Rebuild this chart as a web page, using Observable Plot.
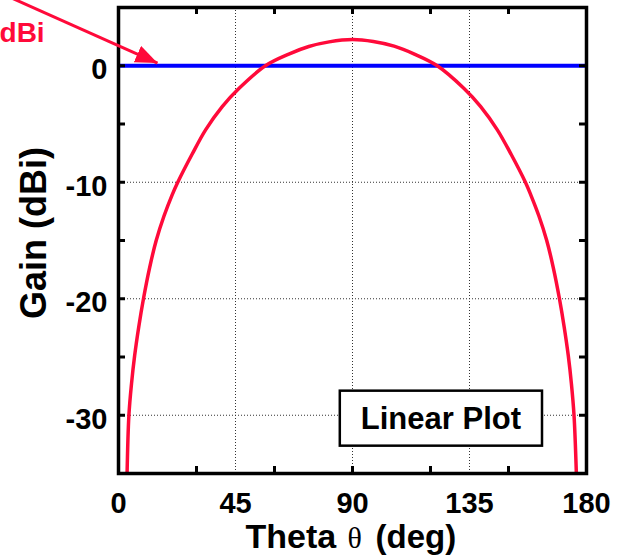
<!DOCTYPE html>
<html><head><meta charset="utf-8">
<script src="https://cdn.jsdelivr.net/npm/d3@7"></script>
<script src="https://cdn.jsdelivr.net/npm/@observablehq/plot@0.6"></script>
<style>body{margin:0;background:#fff;}</style>
</head><body><div id="chart"></div>
<script>
// Dipole gain vs theta
const thetaDeg = [3.3, 4.0, 5.0, 6.2, 7.8, 9.6, 12.0, 14.5, 17.5, 20.6, 22.8, 28.3, 33.5, 39.9, 46.3, 56.5, 65.5, 73.2, 81, 90, 98, 106, 113.8, 122.6, 132.9, 139.3, 145.7, 151.0, 156.5, 158.6, 161.7, 164.7, 167.2, 169.6, 171.4, 173.0, 174.2, 175.2, 176.1];
const gainDbi  = [-35, -30, -27.3, -24.9, -22.4, -20, -17.3, -15.0, -12.9, -11.1, -10.0, -7.6, -5.5, -3.5, -1.95, 0, 1.0, 1.65, 2.05, 2.25, 2.08, 1.68, 1.0, 0, -1.95, -3.5, -5.5, -7.6, -10.0, -11.1, -12.9, -15.0, -17.3, -20, -22.4, -24.9, -27.3, -30, -35];
const isotropicGain = [0];
const xTickLabels = [0, 45, 90, 135, 180];
const yTickLabels = [0, -10, -20, -30];
const xMinorTicks = [30, 60, 90, 120, 150];
const yMinorTicks = [-30, -25, -20, -15, -10, -5, 0];
const xGrid = [45, 90, 135];
const yGrid = [0, -10, -20, -30];
const boxLabel = [{theta: 124, gain: -30.3, text: "Linear Plot"}];
const arrowAnn = [{x1: -48, y1: 6.5, x2: 15, y2: 0.23}];
const arrowText = [{theta: -28.4, gain: 2.03, text: "dBi"}];
const yTitle = ["Gain (dBi)"];

const data = thetaDeg.map((t, i) => ({theta: t, gain: gainDbi[i]}));
const font = "'Liberation Sans', Arial, Helvetica, sans-serif";
const red = "#ff0a3a";
const fmt = d => String(d);

const plot = Plot.plot({
  width: 621, height: 556,
  marginLeft: 118, marginRight: 35, marginTop: 7, marginBottom: 83,
  style: {fontFamily: font, fontSize: "29px", fontWeight: "bold", background: "white", color: "black"},
  x: {domain: [0, 180]},
  y: {domain: [-35, 5]},
  marks: [
    Plot.gridX(xGrid, {stroke: "#333", strokeOpacity: 1, strokeWidth: 1, strokeDasharray: "1,2"}),
    Plot.gridY(yGrid, {stroke: "#333", strokeOpacity: 1, strokeWidth: 1, strokeDasharray: "1,2"}),
    Plot.ruleY(isotropicGain, {stroke: "#0000ff", strokeWidth: 4}),
    Plot.line(data, {x: "theta", y: "gain", stroke: red, strokeWidth: 3.5, curve: "catmull-rom", clip: true}),
    // inward minor ticks
    Plot.ruleX(xMinorTicks, {x: d => d, insetTop: 459, stroke: "black", strokeWidth: 3}),
    Plot.ruleX(xMinorTicks, {x: d => d, insetBottom: 459, stroke: "black", strokeWidth: 3}),
    Plot.ruleY(yMinorTicks, {y: d => d, insetRight: 461, stroke: "black", strokeWidth: 3}),
    Plot.ruleY(yMinorTicks, {y: d => d, insetLeft: 461, stroke: "black", strokeWidth: 3}),
    Plot.axisX(xTickLabels, {anchor: "bottom", tickSize: 0, tickPadding: 19, tickFormat: fmt, label: null}),
    Plot.axisY(yTickLabels, {anchor: "left", tickSize: 0, tickPadding: 11, dy: 4, tickFormat: fmt, label: null}),
    Plot.frame({stroke: "black", strokeWidth: 3.5}),
    Plot.text(boxLabel, {x: "theta", y: "gain", text: "text", fontSize: 31, fontWeight: "bold", fill: "black"}),
    Plot.link(arrowAnn, {x1: "x1", y1: "y1", x2: "x2", y2: "y2", stroke: red, strokeWidth: 3}),
    Plot.text(arrowText, {x: "theta", y: "gain", text: "text", textAnchor: "end", lineAnchor: "bottom", fill: red, fontSize: 28, fontWeight: "bold"}),
    Plot.text(yTitle, {frameAnchor: "left", text: d => d, rotate: -90, dx: -73, dy: -7.5, lineAnchor: "bottom", textAnchor: "middle", fontSize: 36, fontWeight: "bold"}),
    Plot.text(["Theta"], {frameAnchor: "bottom", text: d => d, textAnchor: "start", lineAnchor: "bottom", dx: -107, dy: 74, fontSize: 34, fontWeight: "bold"}),
    Plot.text(["θ"], {frameAnchor: "bottom", text: d => d, textAnchor: "start", lineAnchor: "bottom", dx: -5, dy: 74, fontSize: 30, fontWeight: "normal", fontFamily: "'Liberation Serif', 'DejaVu Serif', serif"}),
    Plot.text(["(deg)"], {frameAnchor: "bottom", text: d => d, textAnchor: "start", lineAnchor: "bottom", dx: 23, dy: 74, fontSize: 33, fontWeight: "bold"})
  ]
});
document.getElementById("chart").append(plot);

// post-process: white box around "Linear Plot" and filled arrow head
const ns = "http://www.w3.org/2000/svg";
const svg = plot.tagName.toLowerCase() === "svg" ? plot : plot.querySelector("svg");
const lbl = [...svg.querySelectorAll("text")].find(e => e.textContent === "Linear Plot");
if (lbl) {
  const bb = lbl.getBBox();
  const r = document.createElementNS(ns, "rect");
  r.setAttribute("x", bb.x - 21);
  r.setAttribute("y", bb.y - 10);
  r.setAttribute("width", bb.width + 42);
  r.setAttribute("height", bb.height + 20);
  r.setAttribute("fill", "white");
  r.setAttribute("stroke", "black");
  r.setAttribute("stroke-width", 2.5);
  if (lbl.getAttribute("transform")) r.setAttribute("transform", lbl.getAttribute("transform"));
  lbl.parentNode.insertBefore(r, lbl);
}
const linkPath = svg.querySelector('g[aria-label="link"] path');
if (linkPath) {
  const defs = document.createElementNS(ns, "defs");
  const m = document.createElementNS(ns, "marker");
  m.setAttribute("id", "arrowhead-red");
  m.setAttribute("markerUnits", "userSpaceOnUse");
  m.setAttribute("viewBox", "0 0 22 18");
  m.setAttribute("refX", 22); m.setAttribute("refY", 9);
  m.setAttribute("markerWidth", 22); m.setAttribute("markerHeight", 18);
  m.setAttribute("orient", "auto");
  const p = document.createElementNS(ns, "path");
  p.setAttribute("d", "M0,0 L22,9 L0,18 Z");
  p.setAttribute("fill", red);
  m.append(p); defs.append(m); svg.insertBefore(defs, svg.firstChild);
  linkPath.setAttribute("marker-end", "url(#arrowhead-red)");
}
</script>
</body></html>
